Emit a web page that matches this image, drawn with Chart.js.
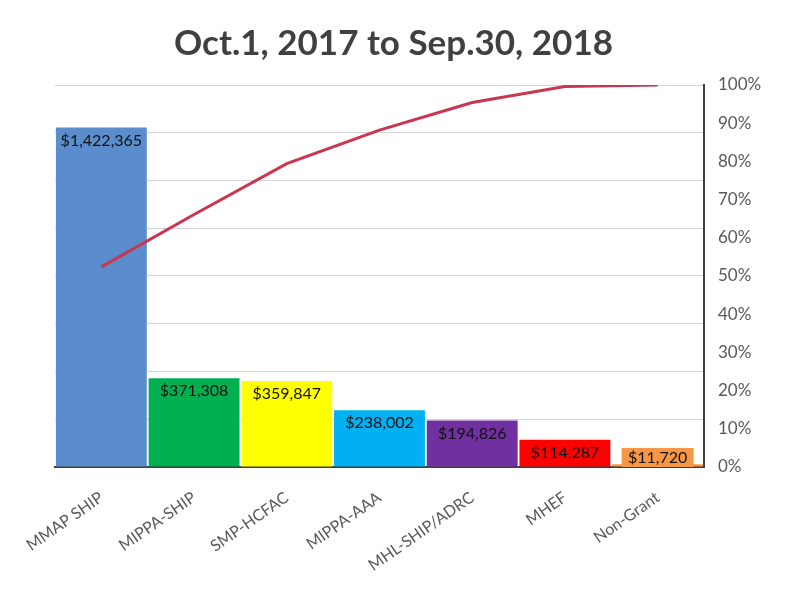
<!DOCTYPE html>
<html>
<head>
<meta charset="utf-8">
<script src="https://cdn.jsdelivr.net/npm/chart.js@4/dist/chart.umd.min.js"></script>
<style>
html,body{margin:0;padding:0;background:#fff;}
#wrap{width:787px;height:589px;position:relative;}
</style>
</head>
<body>
<div id="wrap"><canvas id="c"></canvas></div>
<script>
const categories = ['MMAP SHIP','MIPPA-SHIP','SMP-HCFAC','MIPPA-AAA','MHL-SHIP/ADRC','MHEF','Non-Grant'];
const amounts = [1422365, 371308, 359847, 238002, 194826, 114287, 11720];
const amountLabels = ['$1,422,365','$371,308','$359,847','$238,002','$194,826','$114,287','$11,720'];
const cumulativePct = [0.524, 0.661, 0.794, 0.882, 0.954, 0.996, 1.0];
const barColors = ['#5B8CCB','#00B050','#FFFF00','#00B0F0','#7030A0','#FF0000','#F79646'];
const pctTicks = [0,0.1,0.2,0.3,0.4,0.5,0.6,0.7,0.8,0.9,1.0];

const FONT = 'Lato, "Open Sans", sans-serif';

const labelPlugin = {
  id: 'barLabels',
  afterDatasetsDraw(chart) {
    const ctx = chart.ctx;
    const meta = chart.getDatasetMeta(1);
    const bottom = chart.chartArea.bottom;
    ctx.save();
    ctx.font = '16px ' + FONT;
    ctx.textAlign = 'center';
    ctx.textBaseline = 'middle';
    meta.data.forEach((bar, i) => {
      const props = bar.getProps(['x','y','width'], true);
      let cy = props.y + 13;
      const minCy = bottom - 9;
      if (cy > minCy) cy = minCy;
      const text = amountLabels[i];
      if (props.y > cy - 9) {
        ctx.fillStyle = barColors[i];
        ctx.fillRect(props.x - 36, cy - 10, 72, 19);
      }
      ctx.fillStyle = '#111';
      ctx.fillText(text, props.x, cy);
    });
    ctx.restore();
  }
};

new Chart(document.getElementById('c'), {
  data: {
    labels: categories,
    datasets: [
      {
        type: 'line',
        data: cumulativePct,
        yAxisID: 'y1',
        borderColor: '#C8374F',
        borderWidth: 3,
        pointRadius: 0,
        tension: 0,
        fill: false,
        order: 0
      },
      {
        type: 'bar',
        data: amounts,
        yAxisID: 'y',
        backgroundColor: barColors,
        barPercentage: 0.98,
        categoryPercentage: 1.0,
        order: 1
      }
    ]
  },
  options: {
    responsive: true,
    maintainAspectRatio: false,
    animation: false,
    layout: { padding: { left: 0, right: 0, top: 0, bottom: 1 } },
    plugins: {
      legend: { display: false },
      tooltip: { enabled: false },
      title: {
        display: true,
        text: 'Oct.1, 2017 to Sep.30, 2018',
        color: '#404040',
        font: { family: FONT, size: 35, weight: 'bold' },
        padding: { top: 23, bottom: 20 }
      }
    },
    scales: {
      x: {
        grid: { display: false },
        border: { display: true, color: '#404040', width: 2 },
        ticks: {
          color: '#595959',
          font: { family: FONT, size: 16 },
          minRotation: 35,
          maxRotation: 35,
          padding: 13
        }
      },
      y: {
        position: 'left',
        min: 0,
        max: 1600000,
        afterFit: (s) => { s.width = 55; },
        ticks: { display: false, stepSize: 200000 },
        grid: { color: '#D4D4D4', lineWidth: 1, drawTicks: false },
        border: { display: false }
      },
      y1: {
        position: 'right',
        min: 0,
        max: 1,
        afterFit: (s) => { s.width = 83; },
        afterBuildTicks: (axis) => { axis.ticks = pctTicks.map(v => ({ value: v })); },
        ticks: {
          color: '#595959',
          font: { family: FONT, size: 17 },
          padding: 6,
          callback: (v) => Math.round(v * 100) + '%'
        },
        grid: { display: false },
        border: { display: true, color: '#404040', width: 2 }
      }
    }
  },
  plugins: [labelPlugin]
});
</script>
</body>
</html>
